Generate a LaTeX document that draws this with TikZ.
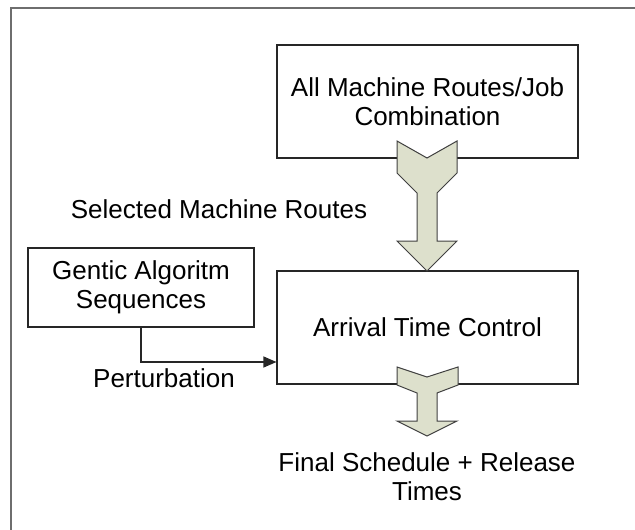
\documentclass[tikz,border=0pt]{standalone}
\usepackage{fontspec}
\setmainfont{Liberation Sans}
\usetikzlibrary{arrows.meta}
\definecolor{arrowfill}{RGB}{221,224,204}
\definecolor{framegray}{RGB}{110,110,110}
\tikzset{
  boxnode/.style={draw=black!85, line width=1.1pt, fill=white, inner sep=0pt, align=center,
    font=\fontsize{26}{29}\selectfont},
  label/.style={inner sep=0pt, align=center, font=\fontsize{26}{29}\selectfont},
  blockarrow/.style={draw=black!75, line width=1pt, fill=arrowfill, line join=miter},
  link/.style={draw=black!85, line width=1.1pt, -{Triangle[length=13pt,width=11pt]}}
}
\begin{document}
\begin{tikzpicture}[x=1pt,y=-1pt]
\useasboundingbox (0,0) rectangle (635,530);
% frame
\draw[framegray, line width=1.4pt] (11,530) -- (11,8) -- (635,8);
% boxes
\node[boxnode, minimum width=301pt, minimum height=113pt] (all) at (427.5,101.5) {All Machine Routes/Job\\Combination};
\node[boxnode, minimum width=301pt, minimum height=113pt] (atc) at (427.5,327.5) {Arrival Time Control};
\node[boxnode, minimum width=226pt, minimum height=79pt] (ga) at (141,287.5) {Gentic Algoritm\\Sequences};
% labels
\node[label] (sel) at (219,209) {Selected Machine Routes};
\node[label] (pert) at (164,378) {Perturbation};
\node[label] (final) at (427,477) {Final Schedule + Release\\Times};
% connector
\coordinate (pin) at (atc.west |- 0,362);
\draw[link] (ga.south) |- (pin);
% top block arrow
\path[blockarrow] (397,141) -- (427,158) -- (457,141) -- (457,173) -- (437,193) -- (437,241)
  -- (457,241) -- (427,271) -- (397,241) -- (417,241) -- (417,193) -- (397,173) -- cycle;
% bottom block arrow
\path[blockarrow] (397,367) -- (427,377) -- (458,367) -- (458,385) -- (437,393) -- (437,421)
  -- (457,421) -- (427,436) -- (397,421) -- (417,421) -- (417,393) -- (397,385) -- cycle;
\end{tikzpicture}
\end{document}
